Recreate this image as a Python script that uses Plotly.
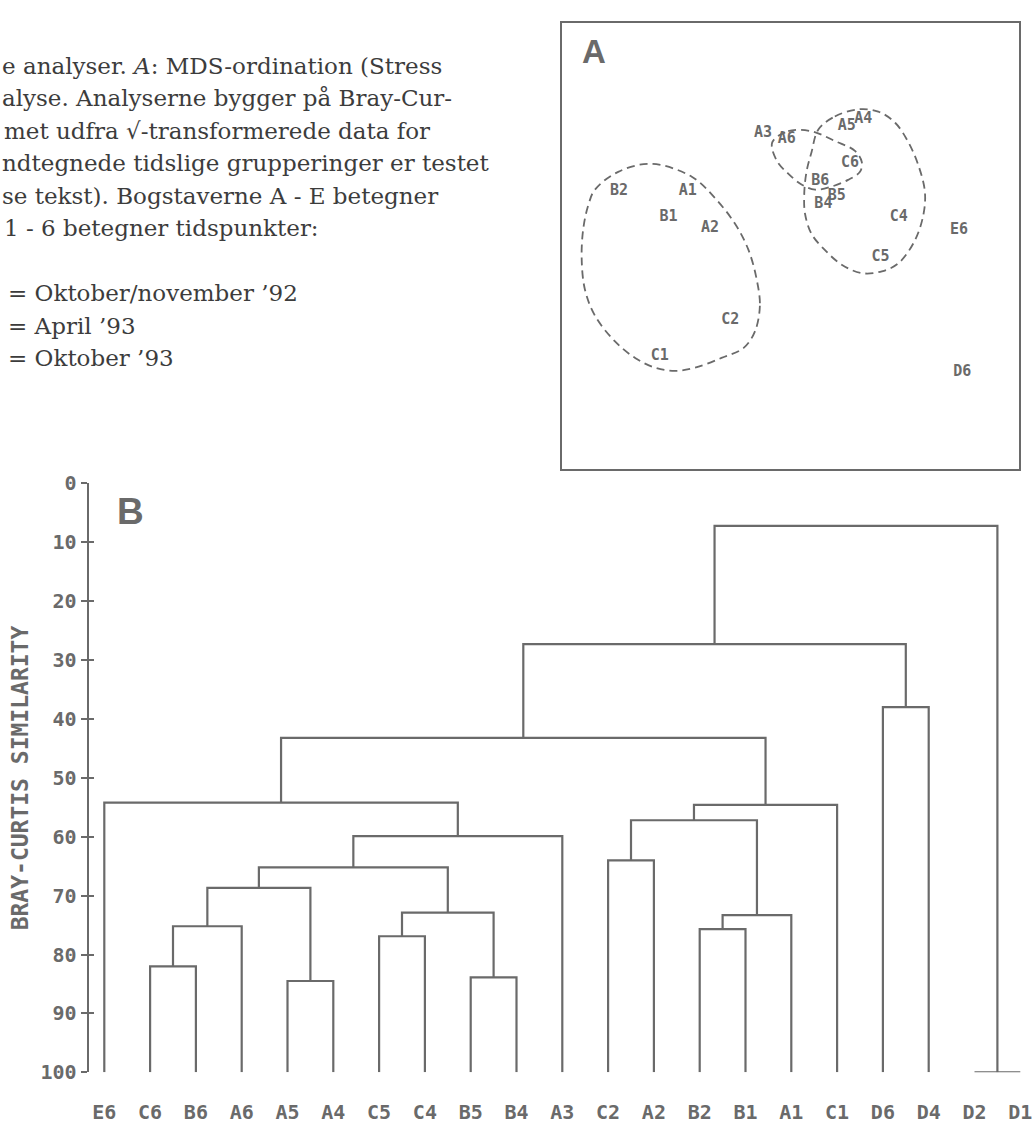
import plotly.graph_objects as go

W, H = 1034, 1129
GRAY = "#6a6a6a"
TEXT_GRAY = "#3c3c3c"
MONO = "DejaVu Sans Mono"

# ---------------- Caption text (cut-off figure legend) ----------------
caption_lines = [
    "e analyser. <i>A</i>: MDS-ordination (Stress",
    "alyse. Analyserne bygger på Bray-Cur-",
    "met udfra √-transformerede data for",
    "ndtegnede tidslige grupperinger er testet",
    "se tekst). Bogstaverne A - E betegner",
    "1 - 6 betegner tidspunkter:",
    "",
    "= Oktober/november ’92",
    "= April ’93",
    "= Oktober ’93",
]

# ---------------- Panel A: MDS ordination (box units 0-100) ----------------
mds_labels = ["A3", "A6", "A5", "A4", "C6", "B6", "B5", "B4", "C4", "E6",
              "C5", "D6", "B2", "A1", "B1", "A2", "C2", "C1"]
mds_x = [44.0, 49.2, 62.3, 65.9, 63.0, 56.5, 60.1, 57.2, 73.7, 86.9,
         69.7, 87.6, 12.5, 27.5, 23.3, 32.4, 36.8, 21.4]
mds_y = [75.2, 73.9, 76.8, 78.3, 68.6, 64.5, 61.1, 59.4, 56.4, 53.4,
         47.4, 21.6, 62.3, 62.2, 56.4, 53.9, 33.3, 25.3]

# hand-drawn group outlines (dashed) in the same units
hull1_x = [42.6, 43.3, 42.2, 39.7, 34.9, 29.1, 24.7, 20.4, 16.0, 11.6, 7.2, 5.0,
           4.3, 4.7, 5.8, 7.2, 12.3, 19.6, 28.4, 33.5, 37.9, 40.8]
hull1_y = [42.5, 36.6, 30.8, 27.1, 24.9, 22.7, 22.0, 22.7, 24.9, 28.6, 34.4, 40.3,
           47.6, 54.2, 59.3, 62.6, 66.6, 68.4, 65.5, 60.7, 54.9, 49.1]
hull2_x = [46.0, 49.5, 54.6, 59.7, 64.1, 65.6, 65.2, 62.6, 59.0, 55.4, 52.5, 49.5, 47.0]
hull2_y = [73.2, 75.7, 75.7, 73.5, 71.3, 68.8, 66.6, 64.8, 63.3, 62.6, 63.7, 66.2, 69.1]
hull3_x = [56.1, 59.7, 64.8, 69.2, 72.9, 75.8, 78.0, 79.4, 79.1, 77.2, 73.6, 70.0,
           65.6, 61.2, 57.5, 54.6, 53.2, 53.0, 53.5, 54.6]
hull3_y = [76.1, 79.0, 80.6, 80.1, 77.6, 73.2, 68.0, 62.2, 57.1, 51.2, 46.1, 44.3,
           43.9, 45.8, 49.1, 52.7, 57.1, 61.5, 66.6, 71.0]

# ---------------- Panel B: dendrogram ----------------
leaf_labels = ["E6", "C6", "B6", "A6", "A5", "A4", "C5", "C4", "B5", "B4", "A3",
               "C2", "A2", "B2", "B1", "A1", "C1", "D6", "D4", "D2", "D1"]
# merges create nodes 21, 22, ... (leaves are nodes 0..20)
merge_left = [1, 21, 4, 22, 6, 8, 25, 24, 28, 0, 11, 13, 32, 31, 34, 30, 17, 36, 19, 38]
merge_right = [2, 3, 5, 23, 7, 9, 26, 27, 10, 29, 12, 14, 15, 33, 16, 35, 18, 37, 20, 39]
merge_similarity = [82.0, 75.2, 84.5, 68.7, 76.9, 83.9, 72.9, 65.2, 59.9, 54.2,
                    64.0, 75.7, 73.3, 57.2, 54.6, 43.2, 38.0, 27.3, 100.0, 7.2]
y_ticks = [0, 10, 20, 30, 40, 50, 60, 70, 80, 90, 100]

# ---- build dendrogram segments ----
node_x = {i: float(i) for i in range(len(leaf_labels))}
node_h = {i: 100.0 for i in range(len(leaf_labels))}
dx, dy = [], []
for k, (a, b, s) in enumerate(zip(merge_left, merge_right, merge_similarity)):
    nid = len(leaf_labels) + k
    xa, xb = node_x[a], node_x[b]
    dx += [xa, xa, xb, xb, None]
    dy += [node_h[a], s, s, node_h[b], None]
    node_x[nid] = (xa + xb) / 2
    node_h[nid] = s

fig = go.Figure()

fig.add_trace(go.Scatter(x=dx, y=dy, mode="lines",
                         line=dict(color=GRAY, width=2.2),
                         hoverinfo="skip", xaxis="x", yaxis="y"))
# invisible trace for the inner-tick overlay axis
fig.add_trace(go.Scatter(x=[0], y=[0], mode="markers", marker=dict(opacity=0),
                         hoverinfo="skip", xaxis="x", yaxis="y3"))

# panel A
for hx, hy in [(hull1_x, hull1_y), (hull2_x, hull2_y), (hull3_x, hull3_y)]:
    fig.add_trace(go.Scatter(x=hx + hx[:1], y=hy + hy[:1], mode="lines",
                             line=dict(color=GRAY, width=1.8, dash="8px,5px",
                                       shape="spline", smoothing=1.0),
                             hoverinfo="skip", xaxis="x2", yaxis="y2"))
fig.add_trace(go.Scatter(x=mds_x, y=mds_y, mode="text", text=mds_labels,
                         textposition="middle center",
                         textfont=dict(family=MONO, size=15, color=GRAY, weight="bold"),
                         hoverinfo="skip", xaxis="x2", yaxis="y2"))

# ---- layout ----
leaf_px0, leaf_step = 104.3, 45.8
y0_px, y100_px = 481.7, 1083.3

fig.update_layout(
    width=W, height=H,
    margin=dict(l=0, r=0, t=0, b=0),
    paper_bgcolor="white", plot_bgcolor="white",
    showlegend=False,
    xaxis=dict(domain=[0, 1],
               range=[(0 - leaf_px0) / leaf_step, (W - leaf_px0) / leaf_step],
               tickmode="array", tickvals=list(range(len(leaf_labels))),
               ticktext=leaf_labels, ticks="", showline=False, showgrid=False,
               zeroline=False, ticklabelstandoff=26,
               tickfont=dict(family=MONO, size=20, color=GRAY, weight="bold"),
               anchor="y"),
    yaxis=dict(domain=[1 - y100_px / H, 1 - y0_px / H], range=[100, 0],
               anchor="free", position=87.5 / W,
               tickmode="array", tickvals=y_ticks,
               ticks="outside", ticklen=6, tickwidth=2, tickcolor=GRAY,
               showline=True, linecolor=GRAY, linewidth=2,
               showgrid=False, zeroline=False,
               tickfont=dict(family=MONO, size=20, color=GRAY, weight="bold")),
    yaxis3=dict(domain=[1 - y100_px / H, 1 - y0_px / H], range=[100, 0],
                anchor="free", position=87.5 / W, overlaying="y",
                tickmode="array", tickvals=y_ticks,
                ticks="inside", ticklen=5, tickwidth=2, tickcolor=GRAY,
                showline=False, showgrid=False, zeroline=False,
                showticklabels=False),
    xaxis2=dict(domain=[562 / W, 1019 / W], range=[0, 100], anchor="y2",
                showline=True, mirror=True, linecolor=GRAY, linewidth=2,
                showticklabels=False, ticks="", showgrid=False, zeroline=False),
    yaxis2=dict(domain=[1 - 467 / H, 1 - 11 / H], range=[0, 100], anchor="x2",
                showline=True, mirror=True, linecolor=GRAY, linewidth=2,
                showticklabels=False, ticks="", showgrid=False, zeroline=False),
)

annotations = []
cap_x = [0, 0, 2, 0, 0, 2, 0, 6, 6, 6]
for k, line in enumerate(caption_lines):
    if not line:
        continue
    yc = 55 + 33.2 * k
    annotations.append(dict(xref="paper", yref="paper", x=cap_x[k] / W, y=1 - yc / H,
                            xanchor="left", yanchor="middle", showarrow=False,
                            text=line,
                            font=dict(family="DejaVu Serif", size=23, color=TEXT_GRAY)))

annotations.append(dict(xref="paper", yref="paper", x=594 / W, y=1 - 40 / H,
                        xanchor="center", yanchor="middle", showarrow=False, text="A",
                        font=dict(family="Liberation Sans", size=33, color=GRAY, weight="bold")))
annotations.append(dict(xref="paper", yref="paper", x=130 / W, y=1 - 510 / H,
                        xanchor="center", yanchor="middle", showarrow=False, text="B",
                        font=dict(family="Liberation Sans", size=37, color=GRAY, weight="bold")))
annotations.append(dict(xref="paper", yref="paper", x=20 / W, y=1 - 783 / H,
                        xanchor="center", yanchor="middle", showarrow=False,
                        text="BRAY-CURTIS SIMILARITY", textangle=-90,
                        font=dict(family=MONO, size=23, color=GRAY, weight="bold")))
fig.update_layout(annotations=annotations)

fig.write_html("out.html")
